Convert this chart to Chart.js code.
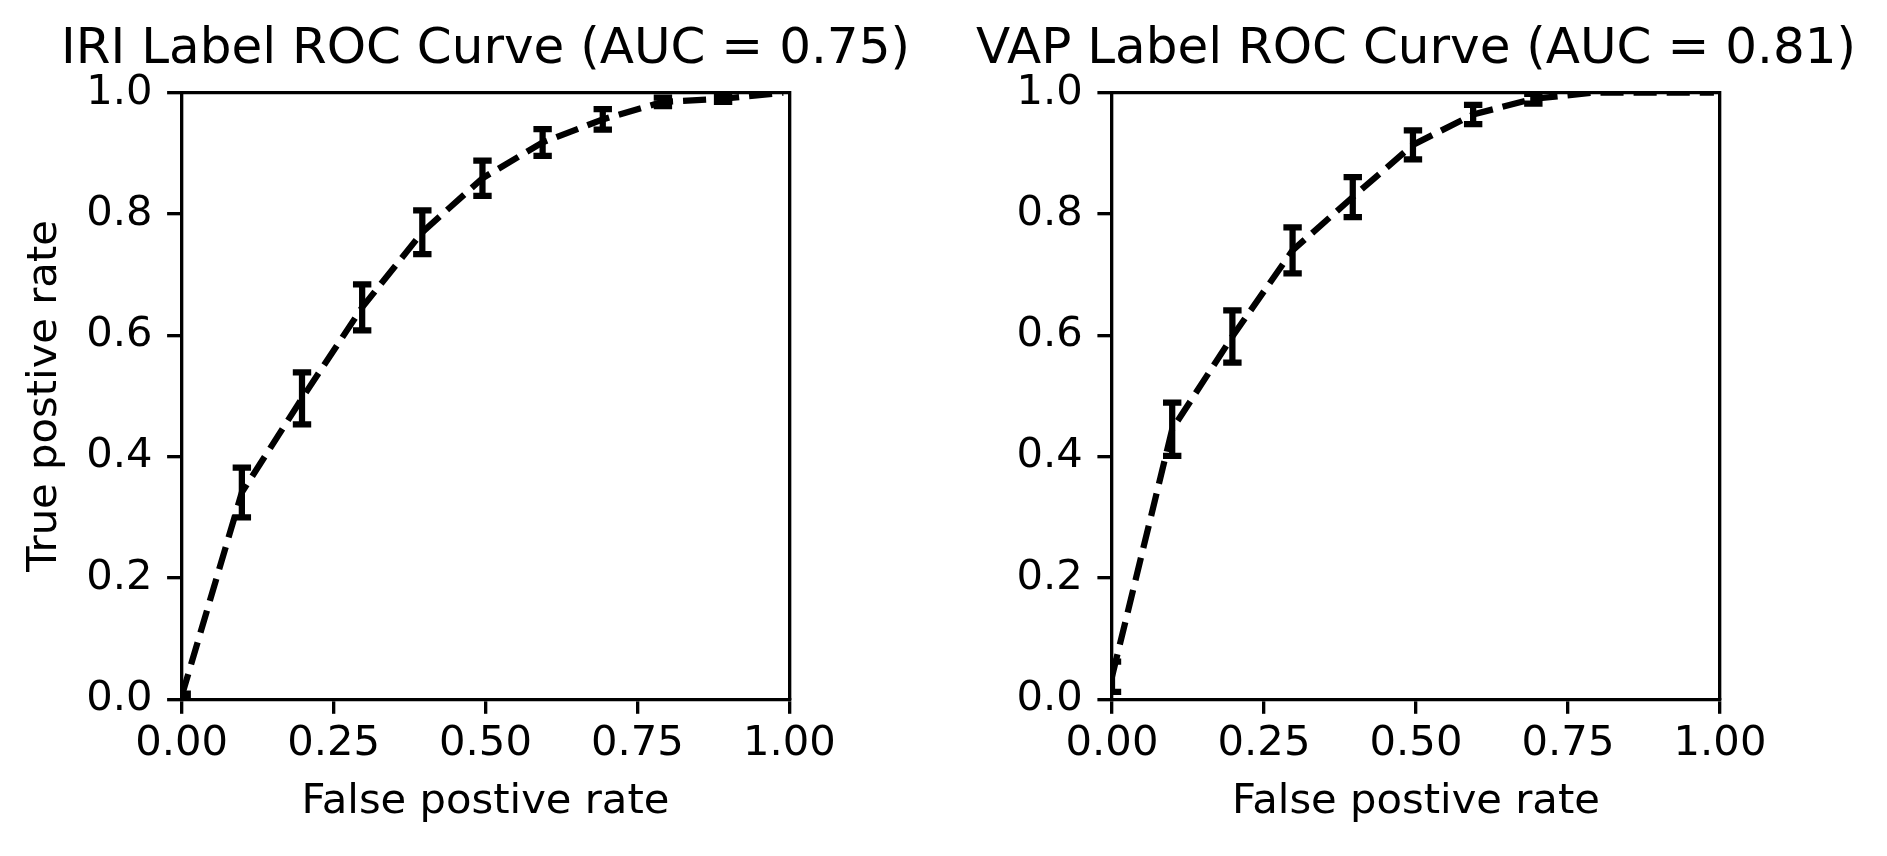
<!DOCTYPE html>
<html>
<head>
<meta charset="utf-8">
<script src="https://cdn.jsdelivr.net/npm/chart.js@4.4.1/dist/chart.umd.min.js"></script>
<style>
  html, body { margin: 0; padding: 0; background: #ffffff; width: 1887px; height: 856px; overflow: hidden; }
  canvas { position: absolute; top: 0; }
  #iri { left: 0px; }
  #vap { left: 945px; }
</style>
</head>
<body>
<canvas id="iri" width="971" height="856"></canvas>
<canvas id="vap" width="942" height="856"></canvas>
<script>
// ---- data ----
const chartTitles = ['IRI Label ROC Curve (AUC = 0.75)', 'VAP Label ROC Curve (AUC = 0.81)'];
const xAxisTitle = 'False postive rate';
const yAxisTitle = 'True postive rate';

const fprPoints  = [0, 0.099, 0.198, 0.297, 0.396, 0.495, 0.594, 0.693, 0.792, 0.891, 0.99];
const iriMeanTpr = [0.005, 0.341, 0.496, 0.646, 0.770, 0.859, 0.918, 0.956, 0.985, 0.990, 1.0];
const iriTprErr  = [0.004, 0.041, 0.043, 0.038, 0.036, 0.029, 0.022, 0.017, 0.007, 0.005, 0];
const vapMeanTpr = [0.037, 0.445, 0.598, 0.740, 0.828, 0.914, 0.964, 0.990, 1.0, 1.0, 1.0];
const vapTprErr  = [0.025, 0.044, 0.043, 0.038, 0.033, 0.024, 0.016, 0.008, 0, 0, 0];

const xTickValues = [0, 0.25, 0.5, 0.75, 1];
const xTickLabels = ['0.00', '0.25', '0.50', '0.75', '1.00'];
const yTickValues = [0, 0.2, 0.4, 0.6, 0.8, 1.0];
const yTickLabels = ['0.0', '0.2', '0.4', '0.6', '0.8', '1.0'];

// ---- styling ----
Chart.defaults.font.family = "'DejaVu Sans', sans-serif";
Chart.defaults.color = '#000000';

const TICK_FONT = 41.7;
const TITLE_FONT = 50;
const SPINE_W = 3.33;
const TICK_LEN = 14.6;
const LINE_W = 6.25;

const errorBarPlugin = {
  id: 'errorBars',
  afterDatasetsDraw(chart) {
    const { ctx, chartArea, scales } = chart;
    const xs = scales.x, ys = scales.y;
    chart.data.datasets.forEach(ds => {
      if (!ds.errors) return;
      ctx.save();
      ctx.beginPath();
      ctx.rect(chartArea.left, chartArea.top, chartArea.right - chartArea.left, chartArea.bottom - chartArea.top);
      ctx.clip();
      ctx.strokeStyle = '#000000';
      ctx.lineWidth = LINE_W;
      ctx.lineCap = 'butt';
      ds.data.forEach((p, i) => {
        const e = ds.errors[i];
        if (!e) return;
        const px = xs.getPixelForValue(p.x);
        const yt = ys.getPixelForValue(p.y + e);
        const yb = ys.getPixelForValue(p.y - e);
        ctx.beginPath();
        ctx.moveTo(px, yt); ctx.lineTo(px, yb);
        ctx.moveTo(px - 9.2, yt); ctx.lineTo(px + 9.2, yt);
        ctx.moveTo(px - 9.2, yb); ctx.lineTo(px + 9.2, yb);
        ctx.stroke();
      });
      ctx.restore();
    });
  }
};

function makeChart(id, title, means, errs, showYTitle, sideWidth) {
  const pts = fprPoints.map((x, i) => ({ x: x, y: means[i] }));
  return new Chart(document.getElementById(id), {
    type: 'line',
    data: {
      datasets: [{
        data: pts,
        errors: errs,
        borderColor: '#000000',
        borderWidth: LINE_W,
        borderDash: [23.1, 10],
        borderCapStyle: 'butt',
        borderJoinStyle: 'round',
        pointRadius: 0,
        tension: 0,
        fill: false
      }]
    },
    options: {
      responsive: false,
      devicePixelRatio: 1,
      animation: false,
      layout: { padding: 0 },
      plugins: {
        legend: { display: false },
        tooltip: { enabled: false },
        title: {
          display: true,
          text: title,
          color: '#000000',
          font: { size: TITLE_FONT, weight: 'normal', lineHeight: 1.2 },
          padding: { top: 20.5, bottom: 12.2 }
        }
      },
      scales: {
        x: {
          type: 'linear', position: 'bottom', min: 0, max: 1, z: 1,
          afterBuildTicks: s => { s.ticks = xTickValues.map(v => ({ value: v })); },
          ticks: {
            callback: (v, i) => xTickLabels[i],
            font: { size: TICK_FONT }, color: '#000000',
            padding: 5.8, maxRotation: 0, minRotation: 0, autoSkip: false
          },
          grid: { drawOnChartArea: false, drawTicks: true, tickLength: TICK_LEN, lineWidth: SPINE_W, color: '#000000' },
          border: { display: true, color: '#000000', width: SPINE_W },
          title: { display: true, text: xAxisTitle, color: '#000000', font: { size: TICK_FONT }, padding: { top: 0, bottom: 28.7 } },
          afterFit: s => { s.height = 156.8; }
        },
        xTop: {
          type: 'linear', position: 'top', min: 0, max: 1, z: 1,
          ticks: { display: false },
          grid: { display: false },
          border: { display: true, color: '#000000', width: SPINE_W },
          afterFit: s => { s.height = 0; }
        },
        y: {
          type: 'linear', position: 'left', min: 0, max: 1, z: 1,
          afterBuildTicks: s => { s.ticks = yTickValues.map(v => ({ value: v })); },
          ticks: {
            callback: (v, i) => yTickLabels[i],
            font: { size: TICK_FONT }, color: '#000000',
            padding: 14.6, autoSkip: false
          },
          grid: { drawOnChartArea: false, drawTicks: true, tickLength: TICK_LEN, lineWidth: SPINE_W, color: '#000000' },
          border: { display: true, color: '#000000', width: SPINE_W },
          title: { display: showYTitle, text: yAxisTitle, color: '#000000', font: { size: TICK_FONT }, padding: { top: 20.3, bottom: 0 } },
          afterFit: s => { s.width = sideWidth; }
        },
        yRight: {
          type: 'linear', position: 'right', min: 0, max: 1, z: 1,
          ticks: { display: false },
          grid: { display: false },
          border: { display: true, color: '#000000', width: SPINE_W },
          afterFit: s => { s.width = sideWidth; }
        }
      }
    },
    plugins: [errorBarPlugin]
  });
}

makeChart('iri', chartTitles[0], iriMeanTpr, iriTprErr, true, 181.7);
makeChart('vap', chartTitles[1], vapMeanTpr, vapTprErr, false, 167);
</script>
</body>
</html>
